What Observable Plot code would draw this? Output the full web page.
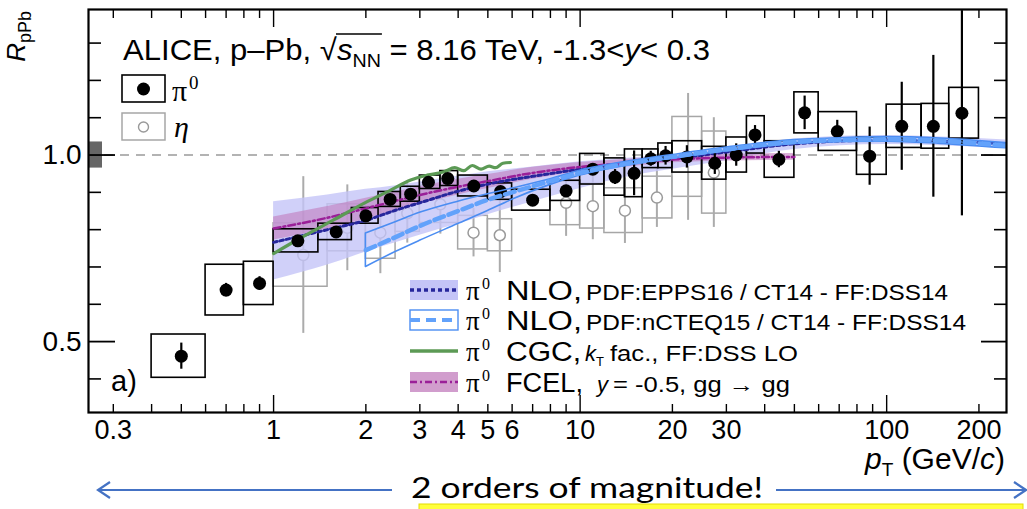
<!DOCTYPE html>
<html><head><meta charset="utf-8">
<script src="https://cdn.jsdelivr.net/npm/d3@7"></script>
<script src="https://cdn.jsdelivr.net/npm/@observablehq/plot@0.6"></script>
<style>html,body{margin:0;padding:0;background:#fff;overflow:hidden}</style>
</head><body><div id="chart"></div>
<script>
// ---------- data ----------
// pi0 R_pPb
const pi0Edges = [0.4,0.6,0.8,1.0,1.4,1.8,2.2,2.6,3.0,3.5,4.0,5.0,6.0,8.0,10,12,14,16,18,20,25,30,35,40,50,60,80,100,130,160,200];
const pi0Pt   = [0.5,0.7,0.9,1.2,1.6,2.0,2.4,2.8,3.2,3.7,4.5,5.5,7,9,11,13,15,17,19,22.3,27.5,32.3,37.2,44.5,54,69,88,112,142,176];
const pi0R    = [0.461,0.638,0.656,0.770,0.794,0.837,0.881,0.895,0.927,0.937,0.917,0.902,0.879,0.904,0.962,0.941,0.951,0.990,0.998,0.995,0.978,1.000,1.054,0.988,1.113,1.063,0.997,1.077,1.077,1.112];
const pi0Stat = [0.035,0.018,0.018,0.008,0.006,0.006,0.006,0.006,0.006,0.006,0.007,0.008,0.010,0.012,0.015,0.020,0.060,0.020,0.025,0.030,0.030,0.030,0.025,0.022,0.045,0.030,0.078,0.118,0.190,0.275];
const pi0Sys  = [0.058,0.068,0.058,0.031,0.022,0.021,0.020,0.020,0.018,0.020,0.028,0.022,0.028,0.027,0.041,0.050,0.064,0.025,0.033,0.042,0.044,0.047,0.050,0.049,0.055,0.052,0.050,0.058,0.060,0.068];
// eta R_pPb
const etaLo   = [1.0,1.5,2.0,2.5,3.0,4.0,5.0,8,10,12,16,20,25];
const etaHi   = [1.5,2.0,2.5,3.0,4.0,5.0,6.0,10,12,16,20,25,30];
const etaPt   = [1.25,1.74,2.23,2.73,3.5,4.49,5.47,9.0,11.0,14.0,17.8,22.5,27.3];
const etaR    = [0.732,0.805,0.792,0.844,0.868,0.792,0.785,0.872,0.863,0.851,0.886,0.995,0.953];
const etaStat = [0.21,0.115,0.11,0.08,0.08,0.065,0.10,0.09,0.09,0.088,0.08,0.17,0.147];
const etaSys  = [0.085,0.063,0.07,0.05,0.05,0.045,0.043,0.06,0.06,0.06,0.056,0.107,0.11];
// NLO EPPS16
const eppsPt  = [1,1.5,2,2.5,3,4,5,7,10,15,20,30,50,100,150,245];
const eppsMid = [0.766,0.800,0.825,0.852,0.872,0.903,0.922,0.943,0.962,0.980,0.990,1.008,1.030,1.040,1.037,1.030];
const eppsLo  = [0.665,0.705,0.740,0.765,0.785,0.815,0.840,0.875,0.910,0.945,0.962,0.985,1.015,1.028,1.025,1.018];
const eppsHi  = [0.875,0.893,0.908,0.918,0.928,0.943,0.955,0.968,0.982,0.993,1.000,1.022,1.043,1.052,1.048,1.040];
// NLO nCTEQ15
const ncteqPt  = [2,2.5,3,4,5,6,8,10,15,20,30,50,70,100,150,245];
const ncteqMid = [0.745,0.780,0.810,0.850,0.880,0.900,0.930,0.952,0.980,0.995,1.015,1.035,1.040,1.042,1.038,1.025];
const ncteqLo  = [0.700,0.740,0.770,0.815,0.850,0.880,0.920,0.945,0.975,0.990,1.010,1.030,1.035,1.036,1.030,1.018];
const ncteqHi  = [0.790,0.820,0.845,0.875,0.895,0.910,0.935,0.958,0.985,1.000,1.020,1.040,1.045,1.048,1.044,1.032];
// CGC
const cgcPt = [1.0,1.22,1.57,2.02,2.41,2.8,3.17,3.6,3.9,4.17,4.45,4.75,5.05,5.3,5.6,5.93];
const cgcR  = [0.736,0.777,0.826,0.875,0.906,0.933,0.946,0.955,0.966,0.958,0.972,0.962,0.970,0.966,0.978,0.980];
// FCEL
const fcelPt  = [1,1.5,2,3,4,5,7,10,14,20,30,50];
const fcelMid = [0.803,0.832,0.857,0.893,0.915,0.930,0.952,0.968,0.978,0.988,0.993,0.995];
const fcelLo  = [0.772,0.802,0.828,0.868,0.893,0.910,0.935,0.955,0.967,0.979,0.984,0.986];
const fcelHi  = [0.834,0.862,0.884,0.915,0.935,0.948,0.967,0.980,0.988,0.997,1.002,1.004];
// normalisation uncertainty
const normUnc = 0.035;
// axes
const xDomain = [0.249, 246];
const yDomain = [0.31, 1.39];
const xMajorTicks = [1, 10, 100];
const xMinorTicks = [0.3,0.4,0.5,0.6,0.7,0.8,0.9,2,3,4,5,6,7,8,9,20,30,40,50,60,70,80,90,200];
const xTickLabels = [0.3,1,2,3,4,5,6,10,20,30,100,200];
const yMajorTicks = [0.5, 1.0];
const yMinorTicks = [0.4,0.6,0.7,0.8,0.9,1.1,1.2,1.3];
const yTickLabels = [0.5, 1.0];

// ---------- tables ----------
const pi0 = pi0Pt.map((pt,i)=>({pt, lo:pi0Edges[i], hi:pi0Edges[i+1], r:pi0R[i], stat:pi0Stat[i], sys:pi0Sys[i]}));
const eta = etaPt.map((pt,i)=>({pt, lo:etaLo[i], hi:etaHi[i], r:etaR[i], stat:etaStat[i], sys:etaSys[i]}));
const epps = eppsPt.map((pt,i)=>({pt, mid:eppsMid[i], lo:eppsLo[i], hi:eppsHi[i]}));
const ncteq = ncteqPt.map((pt,i)=>({pt, mid:ncteqMid[i], lo:ncteqLo[i], hi:ncteqHi[i]}));
const cgc = cgcPt.map((pt,i)=>({pt, r:cgcR[i]}));
const fcel = fcelPt.map((pt,i)=>({pt, mid:fcelMid[i], lo:fcelLo[i], hi:fcelHi[i]}));

// ---------- layout ----------
const W = 1027, H = 509, mL = 88, mR = 21, mT = 9, mB = 97;
const fW = W - mL - mR, fH = H - mT - mB;
const SANS = "'Liberation Sans', Arial, Helvetica, sans-serif";
const SERIF = "'Liberation Serif', 'Times New Roman', serif";
const C = {
  eppsFill: "#c4c4f7", eppsLine: "#26269c",
  ncteqEdge: "#4b8df2", ncteqLine: "#62a2fb",
  cgc: "#5c9a55",
  fcelFill: "#c27cbc", fcelLine: "#9a1f98",
  eta: "#a6a6a6"
};

function overlay() {
  const g = d3.create("svg:g").attr("font-family", SANS).attr("fill", "black").attr("text-anchor", "start");
  // header
  const h = g.append("text").attr("class","hdr").attr("x",123).attr("y",60)
    .attr("font-size",30).attr("textLength",587).attr("lengthAdjust","spacingAndGlyphs");
  h.append("tspan").text("ALICE, p\u2013Pb, ");
  h.append("tspan").attr("class","sq").text("\u221A");
  h.append("tspan").attr("font-style","italic").text("s");
  h.append("tspan").attr("class","nn").attr("font-size",19).attr("dy",7).text("NN");
  h.append("tspan").attr("dy",-7).text(" = 8.16 TeV, -1.3<");
  h.append("tspan").attr("font-style","italic").text("y");
  h.append("tspan").text("< 0.3");

  // top-left legend
  g.append("rect").attr("x",122).attr("y",75).attr("width",43).attr("height",27)
    .attr("fill","none").attr("stroke","black").attr("stroke-width",1.6);
  g.append("circle").attr("cx",143.5).attr("cy",89).attr("r",6.5).attr("fill","black");
  g.append("text").attr("x",172).attr("y",101).attr("font-family",SERIF).attr("font-size",30).text("\u03C0");
  g.append("text").attr("x",189).attr("y",89).attr("font-family",SERIF).attr("font-size",19).text("0");
  g.append("rect").attr("x",122).attr("y",113).attr("width",43).attr("height",27)
    .attr("fill","none").attr("stroke",C.eta).attr("stroke-width",1.5);
  g.append("circle").attr("cx",143.5).attr("cy",127).attr("r",5).attr("fill","white").attr("stroke","#999").attr("stroke-width",1.4);
  g.append("text").attr("x",174).attr("y",137).attr("font-family",SERIF).attr("font-style","italic").attr("font-size",30).text("\u03B7");

  // bottom-right legend
  const sx = 410, sw = 48;
  const rowY = [290, 320, 351, 382];
  g.append("rect").attr("x",sx).attr("y",rowY[0]-10).attr("width",sw).attr("height",20).attr("fill",C.eppsFill);
  g.append("line").attr("x1",sx).attr("x2",sx+sw).attr("y1",rowY[0]).attr("y2",rowY[0])
    .attr("stroke",C.eppsLine).attr("stroke-width",3.5).attr("stroke-dasharray","4,3");
  g.append("rect").attr("x",sx).attr("y",rowY[1]-10).attr("width",sw).attr("height",20).attr("fill","none")
    .attr("stroke",C.ncteqEdge).attr("stroke-width",1.4);
  g.append("line").attr("x1",sx).attr("x2",sx+sw).attr("y1",rowY[1]).attr("y2",rowY[1])
    .attr("stroke",C.ncteqLine).attr("stroke-width",4).attr("stroke-dasharray","10,6");
  g.append("line").attr("x1",sx).attr("x2",sx+sw).attr("y1",rowY[2]).attr("y2",rowY[2])
    .attr("stroke",C.cgc).attr("stroke-width",3.5);
  g.append("rect").attr("x",sx).attr("y",rowY[3]-10).attr("width",sw).attr("height",20).attr("fill",C.fcelFill).attr("fill-opacity",0.75);
  g.append("line").attr("x1",sx).attr("x2",sx+sw).attr("y1",rowY[3]).attr("y2",rowY[3])
    .attr("stroke",C.fcelLine).attr("stroke-width",2.5).attr("stroke-dasharray","7,3,2,3");
  rowY.forEach(cy => {
    g.append("text").attr("x",466).attr("y",cy+10).attr("font-family",SERIF).attr("font-size",27).text("\u03C0");
    g.append("text").attr("x",482).attr("y",cy-1).attr("font-family",SERIF).attr("font-size",16).text("0");
  });
  const big = (txt, cy, w) => g.append("text").attr("x",506).attr("y",cy+10).attr("font-size",27)
      .attr("textLength",w).attr("lengthAdjust","spacingAndGlyphs").text(txt);
  const small = (txt, x, cy, w) => g.append("text").attr("x",x).attr("y",cy+10).attr("font-size",22)
      .attr("textLength",w).attr("lengthAdjust","spacingAndGlyphs").text(txt);
  big("NLO,", rowY[0], 76); small("PDF:EPPS16 / CT14 - FF:DSS14", 586, rowY[0], 362);
  big("NLO,", rowY[1], 76); small("PDF:nCTEQ15 / CT14 - FF:DSS14", 586, rowY[1], 380);
  big("CGC,", rowY[2], 75);
  const k = g.append("text").attr("x",585).attr("y",rowY[2]+10).attr("font-size",22);
  k.append("tspan").attr("font-style","italic").text("k");
  k.append("tspan").attr("font-size",13).attr("dy",5).text("T");
  small("fac., FF:DSS LO", 610, rowY[2], 188);
  big("FCEL,", rowY[3], 77);
  g.append("text").attr("x",597).attr("y",rowY[3]+10).attr("font-size",22).attr("font-style","italic").text("y");
  small("= -0.5, gg \u2192 gg", 613, rowY[3], 177);

  // panel label
  g.append("text").attr("x",111).attr("y",391).attr("font-size",29).text("a)");

  // axis titles
  const yt = g.append("text").attr("transform","translate(25,11) rotate(-90)").attr("text-anchor","end").attr("font-size",26);
  yt.append("tspan").attr("font-style","italic").text("R");
  yt.append("tspan").attr("font-size",18).attr("dy",6).text("pPb");
  const xt = g.append("text").attr("x",1005).attr("y",469).attr("text-anchor","end").attr("font-size",30);
  xt.append("tspan").attr("font-style","italic").text("p");
  xt.append("tspan").attr("font-size",19).attr("dy",7).text("T");
  xt.append("tspan").attr("dy",-7).text(" (GeV/");
  xt.append("tspan").attr("font-style","italic").text("c");
  xt.append("tspan").text(")");

  // annotation
  const blue = "#4472c4";
  g.append("line").attr("x1",98).attr("x2",392).attr("y1",490).attr("y2",490).attr("stroke",blue).attr("stroke-width",2.2);
  g.append("path").attr("d","M110,482 L98,490 L110,498").attr("fill","none").attr("stroke",blue).attr("stroke-width",2.2);
  g.append("line").attr("x1",776).attr("x2",1025).attr("y1",490).attr("y2",490).attr("stroke",blue).attr("stroke-width",2.2);
  g.append("path").attr("d","M1014,482 L1026,490 L1014,498").attr("fill","none").attr("stroke",blue).attr("stroke-width",2.2);
  g.append("rect").attr("x",419).attr("y",504).attr("width",604).attr("height",8).attr("fill","#ffff3c").attr("stroke","#e4dc00").attr("stroke-width",1);
  g.append("text").attr("x",411).attr("y",498).attr("font-family","Lato, 'Open Sans', sans-serif").attr("font-size",28)
    .attr("textLength",352).attr("lengthAdjust","spacingAndGlyphs").text("2 orders of magnitude!");
  return g.node();
}

const chart = Plot.plot({
  width: W, height: H,
  marginLeft: mL, marginRight: mR, marginTop: mT, marginBottom: mB,
  x: {type: "log", domain: xDomain, axis: null},
  y: {type: "linear", domain: yDomain, axis: null},
  style: {fontFamily: SANS, background: "white", overflow: "visible"},
  marks: [
    Plot.ruleY([1], {stroke: "#9a9a9a", strokeWidth: 1.6, strokeDasharray: "9,7"}),
    Plot.rect([normUnc], {y1: d => 1 - d, y2: d => 1 + d, fill: "#666", insetLeft: 1, insetRight: fW - 14}),
    // eta
    Plot.rect(eta, {x1: "lo", x2: "hi", y1: d => d.r - d.sys, y2: d => d.r + d.sys, fill: "none", stroke: C.eta, strokeWidth: 1.5}),
    Plot.ruleX(eta, {x: "pt", y1: d => d.r - d.stat, y2: d => d.r + d.stat, stroke: "#ababab", strokeWidth: 2}),
    Plot.dot(eta, {x: "pt", y: "r", r: 5.5, fill: "white", stroke: "#9a9a9a", strokeWidth: 1.5}),
    // bands
    Plot.areaY(epps, {x: "pt", y1: "lo", y2: "hi", fill: C.eppsFill, fillOpacity: 0.8, curve: "monotone-x", clip: true}),
    Plot.areaY(fcel, {x: "pt", y1: "lo", y2: "hi", fill: C.fcelFill, fillOpacity: 0.6, curve: "monotone-x", clip: true}),
    // pi0 systematic boxes
    Plot.rect(pi0, {x1: "lo", x2: "hi", y1: d => d.r - d.sys, y2: d => d.r + d.sys, fill: "none", stroke: "black", strokeWidth: 1.6}),
    // theory lines
    Plot.line(epps, {x: "pt", y: "mid", stroke: C.eppsLine, strokeWidth: 3, strokeDasharray: "3.5,3", curve: "monotone-x", clip: true}),
    Plot.line(fcel, {x: "pt", y: "mid", stroke: C.fcelLine, strokeWidth: 2.5, strokeDasharray: "7,3,2,3", curve: "monotone-x", clip: true}),
    Plot.line(cgc, {x: "pt", y: "r", stroke: C.cgc, strokeWidth: 3.2, curve: "monotone-x"}),
    // pi0 points
    Plot.ruleX(pi0, {x: "pt", y1: d => d.r - d.stat, y2: d => d.r + d.stat, stroke: "black", strokeWidth: 2.2}),
    Plot.dot(pi0, {x: "pt", y: "r", r: 6.5, fill: "black"}),
    // nCTEQ on top
    Plot.areaY(ncteq, {x: "pt", y1: "lo", y2: "hi", fill: "none", stroke: C.ncteqEdge, strokeWidth: 1.6, curve: "monotone-x", clip: true}),
    Plot.line(ncteq, {x: "pt", y: "mid", stroke: C.ncteqLine, strokeWidth: 4.5, strokeDasharray: "10,5", curve: "monotone-x", clip: true}),
    // ticks (inside the frame, all four sides)
    Plot.ruleX(xMinorTicks, {insetTop: fH - 8, stroke: "black", strokeWidth: 1.4}),
    Plot.ruleX(xMinorTicks, {insetBottom: fH - 9, stroke: "black", strokeWidth: 1.4}),
    Plot.ruleX(xMajorTicks, {insetTop: fH - 17, stroke: "black", strokeWidth: 1.4}),
    Plot.ruleX(xMajorTicks, {insetBottom: fH - 18, stroke: "black", strokeWidth: 1.4}),
    Plot.ruleY(yMinorTicks, {insetRight: fW - 13, stroke: "black", strokeWidth: 1.6}),
    Plot.ruleY(yMinorTicks, {insetLeft: fW - 12, stroke: "black", strokeWidth: 1.6}),
    Plot.ruleY(yMajorTicks, {insetRight: fW - 27, stroke: "black", strokeWidth: 1.8}),
    Plot.ruleY(yMajorTicks, {insetLeft: fW - 25, stroke: "black", strokeWidth: 1.8}),
    Plot.frame({stroke: "black", strokeWidth: 2.2}),
    // tick labels
    Plot.text(xTickLabels, {x: d => d, text: d => String(d), frameAnchor: "bottom", lineAnchor: "top", dy: 7, fontSize: 27}),
    Plot.text(yTickLabels, {y: d => d, text: d => d.toFixed(1), frameAnchor: "left", textAnchor: "end", dx: -7, fontSize: 28}),
    overlay
  ]
});
document.getElementById("chart").append(chart);

// overline of the square root
try {
  const hdr = chart.querySelector("text.hdr");
  const b1 = hdr.querySelector(".sq").getBBox();
  const b2 = hdr.querySelector(".nn").getBBox();
  const ln = document.createElementNS("http://www.w3.org/2000/svg", "line");
  ln.setAttribute("x1", b1.x + b1.width - 1.5); ln.setAttribute("x2", b2.x + b2.width + 1);
  ln.setAttribute("y1", 34); ln.setAttribute("y2", 34);
  ln.setAttribute("stroke", "black"); ln.setAttribute("stroke-width", 1.6);
  hdr.parentNode.append(ln);
} catch (e) {}
</script>
</body></html>
